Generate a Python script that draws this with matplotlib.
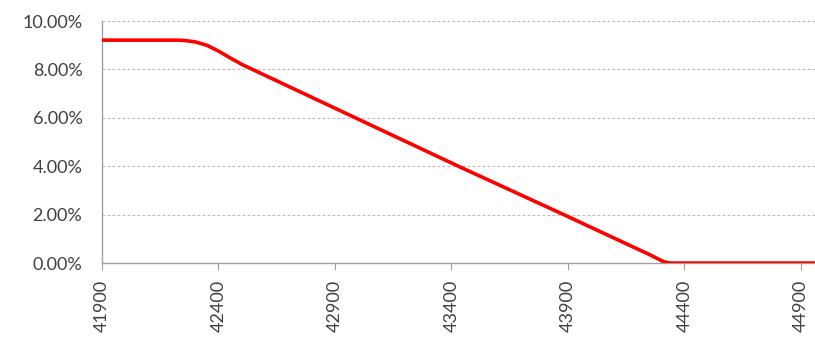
import numpy as np
import matplotlib.pyplot as plt
from matplotlib.ticker import FuncFormatter

# ==========================
# dados
# ==========================
x_vals = [41900, 42000, 42100, 42200, 42250, 42300, 42350, 42400, 42450,
          42500, 42988, 43430, 43882, 44250, 44310, 44335, 44400, 44900, 45000]
y_vals = [9.21, 9.21, 9.21, 9.21, 9.20, 9.14, 9.00, 8.76, 8.48,
          8.21, 6.00, 4.00, 2.00, 0.35, 0.06, 0.0, 0.0, 0.0, 0.0]

x_ticks = [41900, 42400, 42900, 43400, 43900, 44400, 44900]
y_ticks = [0, 2, 4, 6, 8, 10]

# ==========================
# plot
# ==========================
plt.rcParams['font.family'] = ['Lato', 'DejaVu Sans']

fig = plt.figure(figsize=(8.15, 3.39), dpi=100)
ax = fig.add_axes([0.125, 0.224, 0.875, 0.714])

ax.plot(x_vals, np.array(y_vals) / 100, color="#ff0000", lw=2.6,
        solid_capstyle="butt", solid_joinstyle="round", zorder=3)

ax.set_xlim(41900, 44960)
ax.set_ylim(0, 0.10)
ax.set_xticks(x_ticks)
ax.set_yticks(np.array(y_ticks) / 100)
ax.yaxis.set_major_formatter(FuncFormatter(lambda v, p: f"{v*100:.2f}%"))

ax.grid(axis="y", color="#b8b8b8", linestyle=(0, (2.5, 2)), lw=0.8)
ax.set_axisbelow(True)

for s in ["top", "right"]:
    ax.spines[s].set_visible(False)
for s in ["left", "bottom"]:
    ax.spines[s].set_color("#a0a0a0")
    ax.spines[s].set_linewidth(1.0)

ax.tick_params(axis="y", length=0, pad=14, labelsize=13, labelcolor="#404040")
ax.tick_params(axis="x", length=5, color="#a0a0a0", pad=7, labelsize=13,
               labelcolor="#404040", labelrotation=90)

fig.savefig("out.png", dpi=100)
plt.close()
